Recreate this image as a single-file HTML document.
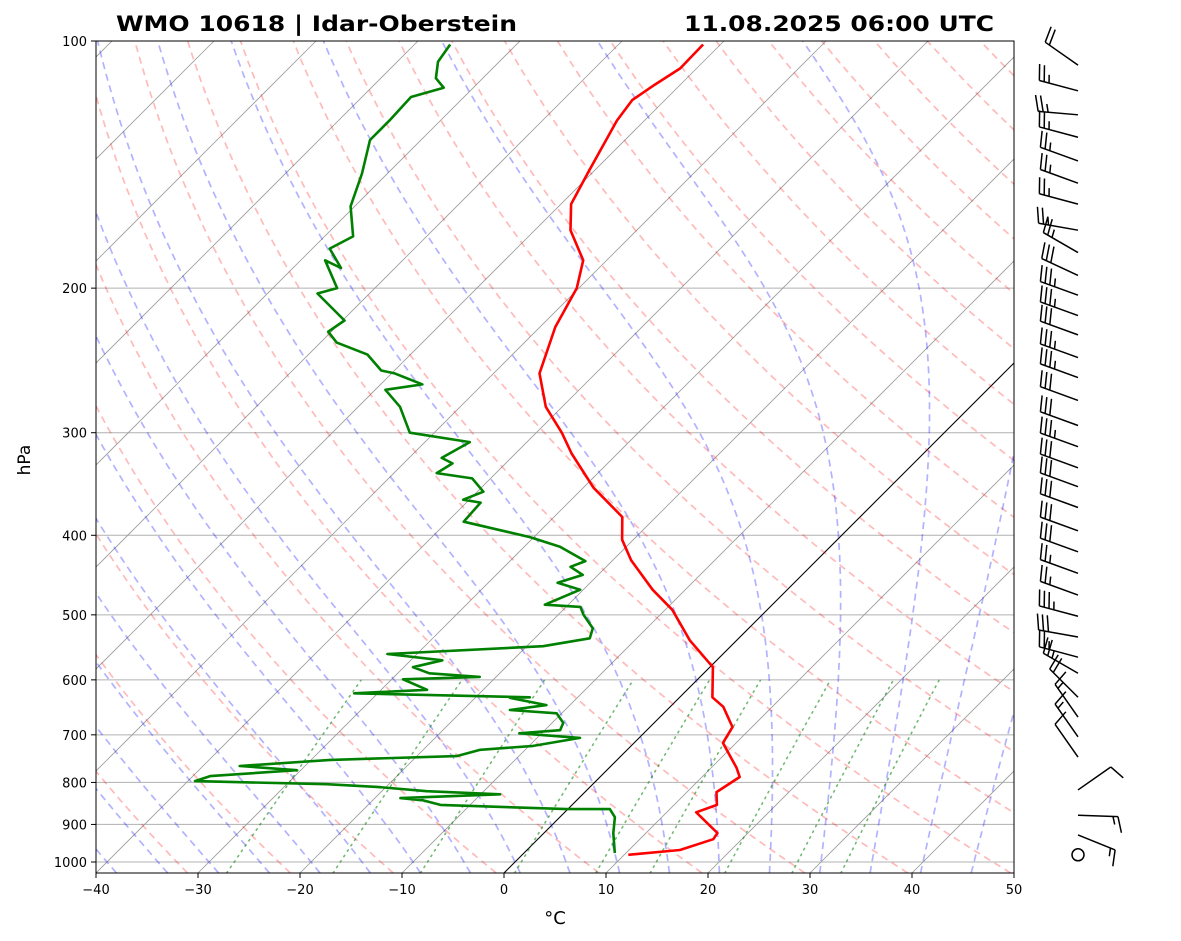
<!DOCTYPE html>
<html><head><meta charset="utf-8"><style>
html,body{margin:0;padding:0;background:#fff;}
svg{display:block;font-family:"DejaVu Sans","Liberation Sans",sans-serif;}
</style></head><body>
<svg id="chart" width="1181" height="941" viewBox="0 0 1181 941" xmlns="http://www.w3.org/2000/svg">
<defs><clipPath id="plotclip"><rect x="96" y="41" width="918" height="832"/></clipPath></defs>
<rect x="0" y="0" width="1181" height="941" fill="#fff"/>
<text x="116" y="31" font-size="21" font-weight="bold" textLength="401" lengthAdjust="spacingAndGlyphs">WMO 10618 | Idar-Oberstein</text>
<text x="684" y="31" font-size="21" font-weight="bold" textLength="310" lengthAdjust="spacingAndGlyphs">11.08.2025 06:00 UTC</text>
<g id="bg" clip-path="url(#plotclip)"></g>
<g id="data" clip-path="url(#plotclip)"></g>
<rect x="96" y="41" width="918" height="832" fill="none" stroke="#000" stroke-width="1"/>
<g id="axes"></g>
<g id="barbs"></g>
<text x="0" y="0" font-size="17" text-anchor="middle" transform="translate(30,460) rotate(-90)">hPa</text>
<text x="555" y="924" font-size="18" text-anchor="middle">°C</text>
</svg>
<script>
// ---- data ----
const tempP = [980,967,938,922,870,852,822,788,768,716,685,647,630,579,537,493,466,429,405,380,350,318,300,279,254,223,200,185,170,158,144,125,118,113,108,101];
const tempT = [10.4,15.0,17.2,17.0,12.9,14.2,12.9,13.7,12.5,8.7,8.1,5.2,3.2,0.3,-4.6,-9.3,-13.2,-18.2,-21.1,-23.3,-29,-34.5,-37.5,-41.6,-45.5,-48.5,-50.2,-52.3,-56.5,-59,-60.5,-62.7,-63.2,-62.5,-61.6,-61.7];
const dewP = [975,922,882,862,862,852,841,836,827,820,810,804,797,786,773,764,751,743,730,722,706,697,691,677,659,653,644,631,630,623,617,599,595,589,579,568,558,546,534,519,500,489,486,466,457,447,437,430,413,402,385,365,362,354,341,336,327,322,308,300,279,266,262,254,252,241,233,226,219,203,200,185,189,179,173,159,145,132,125,117,114,111,106,101];
const dewT = [8.9,6.8,5.4,4.1,-0.1,-12.9,-15.1,-17.5,-8.1,-15.6,-20.9,-26.1,-39.3,-38.3,-30.4,-36.4,-28.1,-16.1,-14.4,-9.6,-5.8,-12.2,-8.5,-8.9,-10.5,-15.4,-12.3,-16.6,-14.7,-32.3,-25.5,-28.9,-21.6,-26.9,-29.1,-26.9,-32.9,-18.4,-14.6,-15.3,-17.5,-18.6,-22.3,-20.3,-23.2,-21.5,-23.5,-22.6,-26.5,-30.4,-38.4,-38.6,-40.6,-39.4,-41.8,-45.8,-45.2,-46.8,-45.6,-52.4,-55.9,-59,-55.9,-59.7,-61.3,-64.2,-68.4,-70.3,-69.8,-75.1,-73.7,-77.6,-75.3,-78.3,-77.2,-80.4,-82.5,-85,-85,-85.2,-82.9,-84.6,-86,-86.5];
const windP = [107,115,123,131,140,149,158,170,181,193,204,216,228,243,257,274,294,312,331,349,370,395,419,445,473,502,532,563,589,630,666,704,745,817,877,927,980];
const windDir = [305,285,275,285,290,290,285,280,300,295,290,290,290,290,290,290,290,290,290,290,290,290,290,290,290,285,280,285,300,315,325,325,325,55,92,112,0];
const windSpd = [20,25,25,25,25,25,25,25,25,30,35,35,30,35,35,30,30,35,30,30,30,30,30,25,25,35,30,25,25,20,15,15,10,10,15,15,0];
const xTicks = [-40,-30,-20,-10,0,10,20,30,40,50];
const yTicks = [100,200,300,400,500,600,700,800,900,1000];

// ---- axes functions ----
const NS = "http://www.w3.org/2000/svg";
const PTOP = 100, PBOT = 1031, YTOP = 41, YBOT = 873;
function yOf(p){ return YTOP + 821*Math.log10(p/PTOP); }
function xOf(T,p){ return 504 + 10.2*T + (YBOT - yOf(p)); }
function mk(tag, attrs, parent){ const e=document.createElementNS(NS,tag); for(const k in attrs) e.setAttribute(k,attrs[k]); parent.appendChild(e); return e; }
function pathD(ps, ts){ let d=""; for(let i=0;i<ps.length;i++){ d += (i?"L":"M")+xOf(ts[i],ps[i]).toFixed(1)+","+yOf(ps[i]).toFixed(1); } return d; }
const bg = document.getElementById("bg");
const dat = document.getElementById("data");
const axes = document.getElementById("axes");

yTicks.forEach(p=>{
  const l = mk("line",{x1:96,x2:1014,y1:yOf(p),y2:yOf(p),stroke:"#b0b0b0","stroke-width":1},bg);
  
  
});
for(let T=-160;T<=50;T+=10){
  const l = mk("path",{d:pathD([PBOT,PTOP],[T,T]),stroke:T===0?"#000":"#999","stroke-width":T===0?1.1:0.8,fill:"none"},bg);
  
  
}
const levs=[]; for(let p=PBOT;p>=PTOP;p-=5) levs.push(p); if(levs[levs.length-1]!==PTOP) levs.push(PTOP);
for(let th=220;th<=560;th+=10){
  const ts = levs.map(p=> th*Math.pow(p/1000,0.2857)-273.15);
  const l = mk("path",{d:pathD(levs,ts),stroke:"rgba(255,0,0,0.27)","stroke-width":1.7,"stroke-dasharray":"7,5",fill:"none"},bg);
  
  
}
function es(Tk){ const t=Tk-273.15; return 6.112*Math.exp(17.67*t/(t+243.5)); }
function dTdp(T,p){ const e=es(T); const rs=0.622*e/(p-e); return (287.04*T+2.501e6*rs)/p/(1005.7+2.501e6*2.501e6*rs*0.622/(287.04*T*T)); }
function moist(t0){
  const ps=[], ts=[];
  let T=t0+273.15, p=1000; const lo=[];
  while(p<PBOT){ const dp=Math.min(5,PBOT-p); T+=dTdp(T,p)*dp; p+=dp; lo.push([p,T]); }
  lo.reverse().forEach(a=>{ps.push(a[0]);ts.push(a[1]-273.15);});
  T=t0+273.15; p=1000; ps.push(p); ts.push(t0);
  while(p>PTOP){ const dp=-Math.min(5,p-PTOP); const k1=dTdp(T,p); const k2=dTdp(T+k1*dp,p+dp); T+=0.5*(k1+k2)*dp; p+=dp; ps.push(p); ts.push(T-273.15); }
  return [ps,ts];
}
for(let t0=-40;t0<=50;t0+=5){
  const r=moist(t0);
  const l = mk("path",{d:pathD(r[0],r[1]),stroke:"rgba(0,0,255,0.3)","stroke-width":1.7,"stroke-dasharray":"7,5",fill:"none"},bg);
  
  
}
const mixW=[0.0004,0.001,0.002,0.004,0.007,0.01,0.016,0.024,0.032];
mixW.forEach(w=>{
  const ps=[], ts=[];
  for(let p=PBOT;p>=600;p-=10){ const e=w*p/(0.622+w); const le=Math.log(e/6.112); ps.push(p); ts.push(243.5*le/(17.67-le)); }
  const l = mk("path",{d:pathD(ps,ts),stroke:"rgba(0,128,0,0.55)","stroke-width":1.6,"stroke-dasharray":"1.5,5","stroke-linecap":"round",fill:"none"},bg);
  
  
});
const tl = mk("path",{d:pathD(tempP,tempT),stroke:"#ff0000","stroke-width":2.6,fill:"none","stroke-linejoin":"round"},dat);


const dl = mk("path",{d:pathD(dewP,dewT),stroke:"#008000","stroke-width":2.6,fill:"none","stroke-linejoin":"round"},dat);



xTicks.forEach(t=>{
  const x=504+10.2*t;
  const tk=mk("line",{x1:x,x2:x,y1:873,y2:878,stroke:"#000","stroke-width":1},axes);
  
  
  const tx=mk("text",{x:x,y:894,"font-size":13,"text-anchor":"middle"},axes);
  tx.textContent = (t<0?"\u2212"+(-t):""+t);
  
  
});
yTicks.forEach(p=>{
  const y=yOf(p);
  const tk=mk("line",{x1:91,x2:96,y1:y,y2:y,stroke:"#000","stroke-width":1},axes);
  
  
  const tx=mk("text",{x:87,y:y+5,"font-size":13,"text-anchor":"end"},axes);
  tx.textContent = ""+p;
  
  
});

const bgp = document.getElementById("barbs");
const BX=1078, L=40;
windP.forEach((p,i)=>{
  const y=yOf(p), spd=windSpd[i], d=windDir[i]*Math.PI/180;
  if(spd<3){
    const c=mk("circle",{cx:BX,cy:y,r:6,fill:"none",stroke:"#000","stroke-width":1.5},bgp);
    
    
    return;
  }
  const sx=Math.sin(d), sy=-Math.cos(d);
  const tipx=BX+L*sx, tipy=y+L*sy;
  const g=mk("g",{stroke:"#000","stroke-width":1.5,fill:"none"},bgp);
  
  
  mk("line",{x1:BX,y1:y,x2:tipx,y2:tipy},g);
  const px=-sy, py=sx;
  let rem=Math.round(spd/5)*5, k=0;
  while(rem>=10){ const bx=tipx-sx*5*k, by=tipy-sy*5*k; mk("line",{x1:bx,y1:by,x2:bx+px*16+sx*4,y2:by+py*16+sy*4},g); rem-=10; k++; }
  if(rem>=5){ if(k===0) k=1; const bx=tipx-sx*5*k, by=tipy-sy*5*k; mk("line",{x1:bx,y1:by,x2:bx+px*8+sx*2,y2:by+py*8+sy*2},g); }
});
</script>
</body></html>
